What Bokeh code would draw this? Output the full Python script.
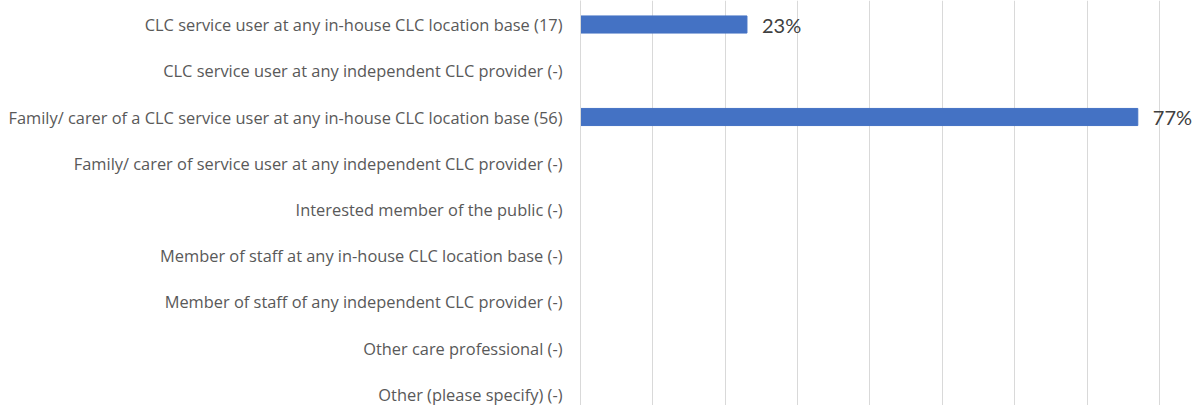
from bokeh.plotting import figure
from bokeh.models import Range1d, FixedTicker, ColumnDataSource, LabelSet
from bokeh.core.properties import value
from bokeh.embed import file_html
from bokeh.resources import INLINE

categories = [
    "CLC service user at any in-house CLC location base (17)",
    "CLC service user at any independent CLC provider (-)",
    "Family/ carer of a CLC service user at any in-house CLC location base (56)",
    "Family/ carer of service user at any independent CLC provider (-)",
    "Interested member of the public (-)",
    "Member of staff at any in-house CLC location base (-)",
    "Member of staff of any independent CLC provider (-)",
    "Other care professional (-)",
    "Other (please specify) (-)",
]
percent = [23, 0, 77, 0, 0, 0, 0, 0, 0]
grid_ticks = [0, 10, 20, 30, 40, 50, 60, 70, 80]

idx = list(range(len(categories)))
vals = [v / 100 for v in percent]
src = ColumnDataSource(dict(
    y=[i for i, v in zip(idx, vals) if v > 0],
    x=[v for v in vals if v > 0],
    lab=[f"{p}%" for p in percent if p > 0],
))

p = figure(width=1203, height=405, output_backend="svg", toolbar_location=None,
           x_range=Range1d(0, 0.8608), y_range=Range1d(8.238, -0.519),
           min_border_left=580, min_border_right=0, min_border_top=0, min_border_bottom=0)
p.outline_line_color = None
p.background_fill_color = "white"

p.hbar(y="y", left=0, right="x", height=0.37, color="#4472C4", source=src)

labels = LabelSet(x="x", y="y", text="lab", source=src, x_offset=15, y_offset=0,
                  text_baseline="middle", text_font=value("Lato"), text_font_size=value("20px"),
                  text_color=value("#404040"))
p.add_layout(labels)

p.xaxis.visible = False
p.xgrid.ticker = FixedTicker(ticks=[t / 100 for t in grid_ticks])
p.xgrid.grid_line_color = "#d9d9d9"
p.xgrid.grid_line_width = 1
p.ygrid.visible = False

p.yaxis.ticker = FixedTicker(ticks=idx)
p.yaxis.major_label_overrides = {i: c for i, c in enumerate(categories)}
p.yaxis.major_tick_line_color = None
p.yaxis.minor_tick_line_color = None
p.yaxis.axis_line_color = "#d9d9d9"
p.yaxis.major_label_standoff = 12
p.yaxis.major_label_text_font = "Open Sans"
p.yaxis.major_label_text_font_size = "16.4px"
p.yaxis.major_label_text_color = "#595959"

open("out.html", "w").write(file_html(p, INLINE))
